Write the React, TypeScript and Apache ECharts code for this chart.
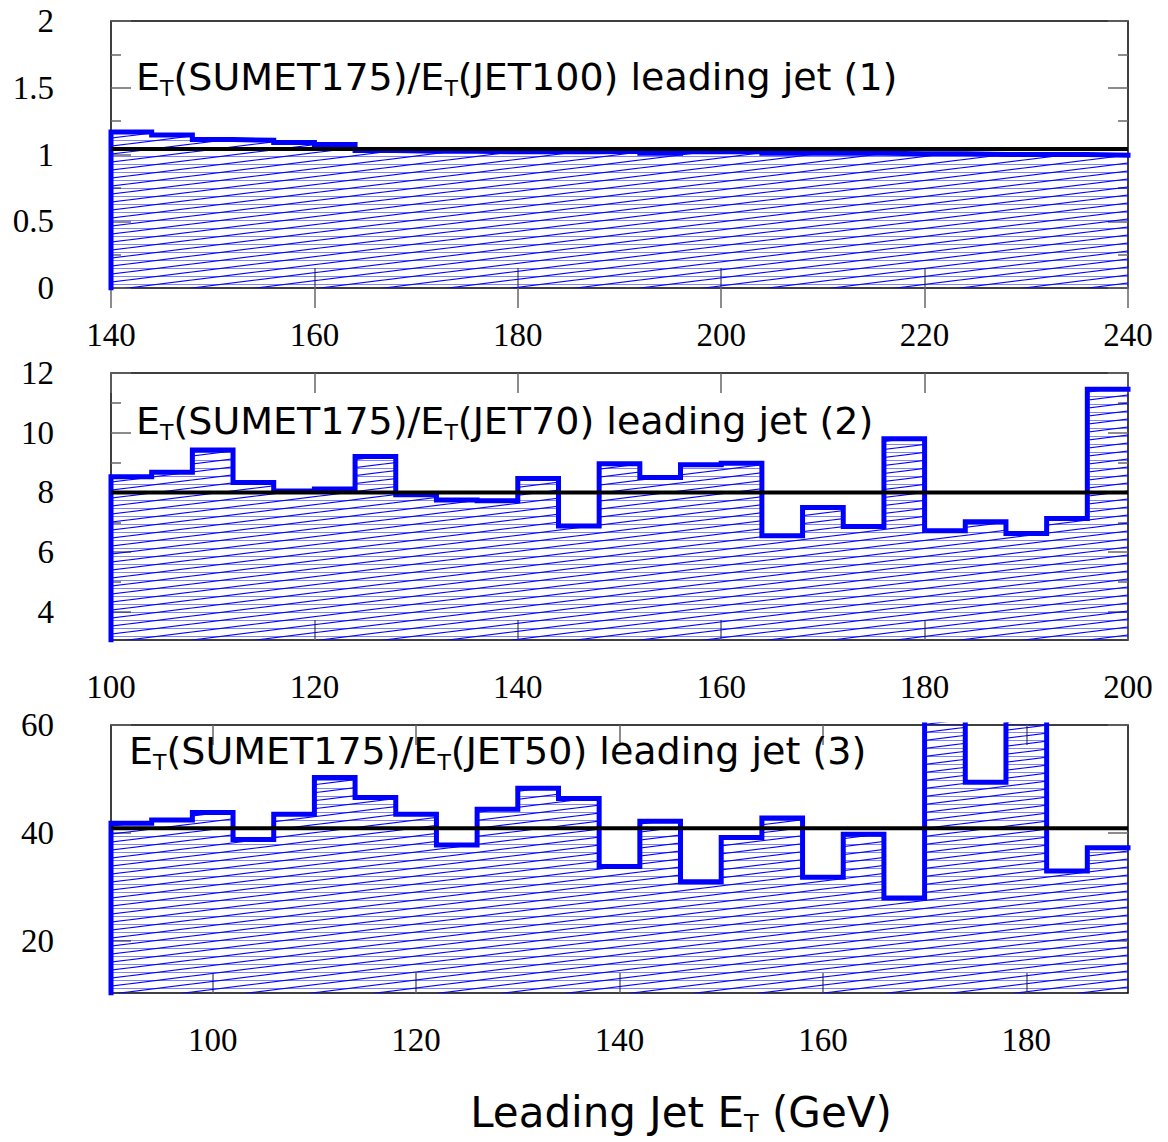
import React, { useEffect, useRef } from "react";
import * as echarts from "echarts";

// ---------------- data ----------------
const binWidth = 4;

const p1Start = 140;
const p1Values = [1.168, 1.147, 1.112, 1.107, 1.09, 1.075, 1.03, 1.025, 1.025, 1.02, 1.02, 1.02, 1.025, 1.01, 1.02, 1.02, 1.01, 1.01, 1.01, 1.005, 1.005, 1.0, 1.0, 1.0, 0.995];
const p1Fit = 1.041;
const p1XTicks = [140, 160, 180, 200, 220, 240];
const p1YTicks = [0, 0.5, 1, 1.5, 2];
const p1YMinor = [0.25, 0.75, 1.25, 1.75];

const p2Start = 100;
const p2Values = [8.53, 8.68, 9.42, 8.33, 8.05, 8.12, 9.2, 7.92, 7.75, 7.72, 8.47, 6.88, 8.96, 8.5, 8.93, 8.98, 6.55, 7.5, 6.86, 9.8, 6.72, 7.02, 6.63, 7.13, 11.46];
const p2Fit = 8.0;
const p2XTicks = [100, 120, 140, 160, 180, 200];
const p2YTicks = [4, 6, 8, 10, 12];
const p2YMinor = [5, 7, 9, 11];

const p3Start = 90;
const p3Values = [41.8, 42.4, 43.8, 38.8, 43.5, 50.3, 46.6, 43.5, 37.8, 44.4, 48.3, 46.4, 33.8, 42.2, 31.0, 39.2, 42.8, 31.8, 39.8, 28.0, 75, 49.4, 70, 33.0, 37.3];
const p3Fit = 40.9;
const p3XTicks = [100, 120, 140, 160, 180];
const p3YTicks = [20, 40, 60];
const p3YMinor: number[] = [];

const titles = [
  ["(SUMET175)/", "(JET100) leading jet (1)"],
  ["(SUMET175)/", "(JET70) leading jet (2)"],
  ["(SUMET175)/", "(JET50) leading jet (3)"],
];

// ---------------- layout ----------------
const panels = [
  { start: p1Start, values: p1Values, fit: p1Fit, xMin: 140, xMax: 240, yMin: 0, yMax: 2, xTicks: p1XTicks, yTicks: p1YTicks, yMinor: p1YMinor, grid: { left: 111, top: 21, width: 1017, height: 267 }, titlePos: [136, 55] },
  { start: p2Start, values: p2Values, fit: p2Fit, xMin: 100, xMax: 200, yMin: 3.06, yMax: 12, xTicks: p2XTicks, yTicks: p2YTicks, yMinor: p2YMinor, grid: { left: 111, top: 373, width: 1017, height: 267 }, titlePos: [136, 399] },
  { start: p3Start, values: p3Values, fit: p3Fit, xMin: 90, xMax: 190, yMin: 10.4, yMax: 60, xTicks: p3XTicks, yTicks: p3YTicks, yMinor: p3YMinor, grid: { left: 111, top: 725, width: 1017, height: 268 }, titlePos: [129, 729] },
];

const BLUE = "#0000ff";
const TICK = "#666666";
const SANS = "DejaVu Sans";
const SERIF = "Liberation Serif";

function makeHatch(): HTMLCanvasElement {
  const w = 64;
  const h = 8;
  const c = document.createElement("canvas");
  c.width = w;
  c.height = h;
  const ctx = c.getContext("2d")!;
  ctx.clearRect(0, 0, w, h);
  ctx.strokeStyle = "rgba(0,0,255,0.5)";
  ctx.lineWidth = 1;
  ctx.beginPath();
  ctx.moveTo(0, 4.5);
  ctx.lineTo(w, 4.5);
  ctx.stroke();
  ctx.strokeStyle = BLUE;
  ctx.lineWidth = 1.2;
  for (let k = -1; k <= 1; k++) {
    ctx.beginPath();
    ctx.moveTo(0, h + k * h);
    ctx.lineTo(w, k * h);
    ctx.stroke();
  }
  return c;
}

function stepData(start: number, values: number[], yMin: number): number[][] {
  const pts: number[][] = [[start, yMin]];
  values.forEach((v, i) => pts.push([start + i * binWidth, v]));
  pts.push([start + values.length * binWidth, values[values.length - 1]]);
  return pts;
}

function buildOption() {
  const hatch = makeHatch();
  const pattern: any = { image: hatch, repeat: "repeat", imageWidth: 64, imageHeight: 8 };
  const grid: any[] = [];
  const xAxis: any[] = [];
  const yAxis: any[] = [];
  const series: any[] = [];
  const graphic: any[] = [];

  const rich = {
    n: { fontFamily: SANS, fontSize: 38, lineHeight: 44, fill: "#000" },
    t: { fontFamily: SANS, fontSize: 22, lineHeight: 27, verticalAlign: "bottom", fill: "#000" },
  };
  const richBig = {
    n: { fontFamily: SANS, fontSize: 42, lineHeight: 48, fill: "#000" },
    t: { fontFamily: SANS, fontSize: 24, lineHeight: 29, verticalAlign: "bottom", fill: "#000" },
  };

  panels.forEach((p, i) => {
    grid.push({ ...p.grid, show: true, borderColor: "#000", borderWidth: 1.5, backgroundColor: "transparent" });
    const baseX = {
      gridIndex: i,
      type: "value",
      min: p.xMin,
      max: p.xMax,
      axisLine: { show: false },
      splitLine: { show: false },
    };
    const xi = xAxis.length;
    xAxis.push({
      ...baseX,
      position: "bottom",
      axisTick: { show: true, inside: true, length: 20, customValues: p.xTicks, lineStyle: { color: TICK, width: 1.5 } },
      axisLabel: { show: true, customValues: p.xTicks, margin: 30, fontFamily: SERIF, fontSize: 33, color: "#000" },
    });
    xAxis.push({
      ...baseX,
      position: "top",
      axisTick: { show: true, inside: true, length: 20, customValues: p.xTicks, lineStyle: { color: TICK, width: 1.5 } },
      axisLabel: { show: false },
    });
    const baseY = {
      gridIndex: i,
      type: "value",
      min: p.yMin,
      max: p.yMax,
      axisLine: { show: false },
      splitLine: { show: false },
    };
    const yi = yAxis.length;
    yAxis.push({
      ...baseY,
      position: "left",
      axisTick: { show: true, inside: true, length: 20, customValues: p.yTicks, lineStyle: { color: TICK, width: 1.5 } },
      axisLabel: { show: true, customValues: p.yTicks, margin: 57, fontFamily: SERIF, fontSize: 33, color: "#000" },
    });
    yAxis.push({
      ...baseY,
      position: "right",
      axisTick: { show: true, inside: true, length: 20, customValues: p.yTicks, lineStyle: { color: TICK, width: 1.5 } },
      axisLabel: { show: false },
    });
    if (p.yMinor.length) {
      yAxis.push({
        ...baseY,
        position: "left",
        axisTick: { show: true, inside: true, length: 10, customValues: p.yMinor, lineStyle: { color: TICK, width: 1.5 } },
        axisLabel: { show: false },
      });
      yAxis.push({
        ...baseY,
        position: "right",
        axisTick: { show: true, inside: true, length: 10, customValues: p.yMinor, lineStyle: { color: TICK, width: 1.5 } },
        axisLabel: { show: false },
      });
    }

    series.push({
      type: "line",
      xAxisIndex: xi,
      yAxisIndex: yi,
      step: "end",
      symbol: "none",
      silent: true,
      clip: true,
      data: stepData(p.start, p.values, p.yMin),
      lineStyle: { color: BLUE, width: 5, join: "miter", cap: "square" },
      areaStyle: { color: pattern, opacity: 1, origin: "start" },
      z: 2,
    });
    series.push({
      type: "line",
      xAxisIndex: xi,
      yAxisIndex: yi,
      symbol: "none",
      silent: true,
      data: [
        [p.xMin, p.fit],
        [p.xMax, p.fit],
      ],
      lineStyle: { color: "#000", width: 4 },
      z: 3,
    });

    const [a, b] = titles[i];
    graphic.push({
      type: "text",
      x: p.titlePos[0],
      y: p.titlePos[1],
      z: 10,
      style: {
        text: `{n|E}{t|T}{n|${a}E}{t|T}{n|${b}}`,
        rich,
        align: "left",
        verticalAlign: "top",
      },
    });
  });

  graphic.push({
    type: "text",
    x: 681,
    y: 1088,
    z: 10,
    style: {
      text: "{n|Leading Jet E}{t|T}{n| (GeV)}",
      rich: richBig,
      align: "center",
      verticalAlign: "top",
    },
  });

  return { animation: false, backgroundColor: "#fff", grid, xAxis, yAxis, series, graphic };
}

export default function App() {
  const ref = useRef<HTMLDivElement>(null);
  useEffect(() => {
    document.body.style.margin = "0";
    const chart = echarts.init(ref.current!, null, { renderer: "svg" });
    chart.setOption(buildOption() as any);
    return () => chart.dispose();
  }, []);
  return <div ref={ref} style={{ width: 1168, height: 1142 }} />;
}
